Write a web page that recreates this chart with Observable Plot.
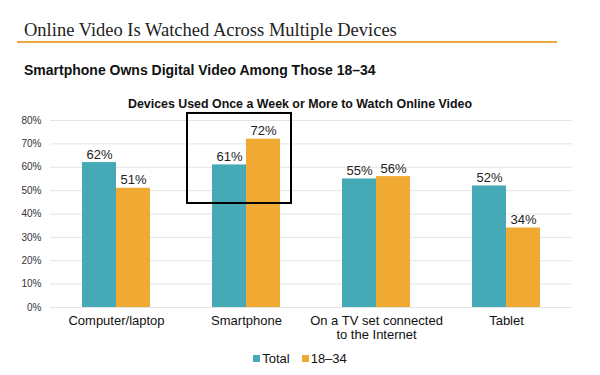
<!DOCTYPE html>
<html>
<head>
<meta charset="utf-8">
<script src="https://cdn.jsdelivr.net/npm/d3@7"></script>
<script src="https://cdn.jsdelivr.net/npm/@observablehq/plot@0.6"></script>
<style>
  html, body { margin: 0; padding: 0; background: #fff; }
  #wrap { position: relative; width: 600px; height: 375px; font-family: "Liberation Sans", Arial, sans-serif; color: #111; }
  #header { position: relative; height: 110px; }
  #title { position: absolute; left: 24px; top: 21px; font-family: "Liberation Serif", "Times New Roman", serif; font-size: 18.5px; color: #222; white-space: nowrap; line-height: 19px; }
  #rule { position: absolute; left: 17px; top: 41px; width: 540px; height: 2px; background: #EBA73A; }
  #subtitle { position: absolute; left: 24px; top: 61px; font-size: 14px; font-weight: bold; line-height: 18px; white-space: nowrap; }
  #ctitle { position: absolute; left: 0; width: 600px; text-align: center; top: 96px; font-size: 12.4px; font-weight: bold; line-height: 16px; }
  #chart svg { display: block; }
  #legend { height: 26px; display: flex; justify-content: center; align-items: center; font-size: 13px; }
  .item { display: flex; align-items: center; margin: 0 6px; }
  .sw { width: 7px; height: 7px; display: inline-block; margin-right: 2px; }
</style>
</head>
<body>
<div id="wrap">
  <div id="header">
    <div id="title">Online Video Is Watched Across Multiple Devices</div>
    <div id="rule"></div>
    <div id="subtitle">Smartphone Owns Digital Video Among Those 18–34</div>
    <div id="ctitle">Devices Used Once a Week or More to Watch Online Video</div>
  </div>
  <div id="chart"></div>
  <div id="legend"></div>
</div>
<script>
const devices = ["Computer/laptop", "Smartphone", "On a TV set connected\nto the Internet", "Tablet"];
const totalValues = [62, 61, 55, 52];
const youngValues = [51, 72, 56, 34];
const seriesNames = ["Total", "18–34"];
const seriesColors = ["#46A9B6", "#F0AA33"];
const yTicks = [0, 10, 20, 30, 40, 50, 60, 70, 80];
const highlight = [{device: "Smartphone", from: 44.5, to: 83}];

const totalData = devices.map((d, i) => ({device: d, value: totalValues[i]}));
const youngData = devices.map((d, i) => ({device: d, value: youngValues[i]}));

const plot = Plot.plot({
  width: 600,
  height: 235,
  marginTop: 10,
  marginBottom: 38,
  marginLeft: 50,
  marginRight: 28,
  style: {fontFamily: "Liberation Sans, Arial, sans-serif", background: "transparent", color: "#111"},
  x: {domain: devices, paddingInner: 0.48, paddingOuter: 0.24, label: null, tickSize: 0, tickPadding: 8},
  y: {domain: [0, 80], label: null, ticks: yTicks, tickFormat: d => d + "%", tickSize: 0, tickPadding: 9},
  marks: [
    Plot.ruleY(yTicks, {stroke: "#e4e4e4", strokeWidth: 1}),
    Plot.barY(totalData, {x: "device", y: "value", fill: seriesColors[0], insetRight: 34, insetLeft: 0}),
    Plot.barY(youngData, {x: "device", y: "value", fill: seriesColors[1], insetLeft: 34, insetRight: 0}),
    Plot.text(totalData, {x: "device", y: "value", text: d => d.value + "%", dx: -17, dy: -4, lineAnchor: "bottom", fontSize: 13, fill: "#222"}),
    Plot.text(youngData, {x: "device", y: "value", text: d => d.value + "%", dx: 17, dy: -4, lineAnchor: "bottom", fontSize: 13, fill: "#222"}),
    Plot.rect(highlight, {x: "device", y1: "from", y2: "to", fill: "none", stroke: "#000", strokeWidth: 2, insetLeft: -25, insetRight: -11}),
    Plot.axisY({ticks: yTicks, tickFormat: d => d + "%", tickSize: 0, tickPadding: 9, fontSize: 10, fill: "#333"}),
    Plot.axisX({tickSize: 0, tickPadding: 8, fontSize: 13, fill: "#111", lineHeight: 1.05})
  ]
});
document.getElementById("chart").appendChild(plot);

const legend = document.getElementById("legend");
seriesNames.forEach((name, i) => {
  const item = document.createElement("span");
  item.className = "item";
  const sw = document.createElement("span");
  sw.className = "sw";
  sw.style.background = seriesColors[i];
  item.appendChild(sw);
  item.appendChild(document.createTextNode(name));
  legend.appendChild(item);
});
</script>
</body>
</html>
